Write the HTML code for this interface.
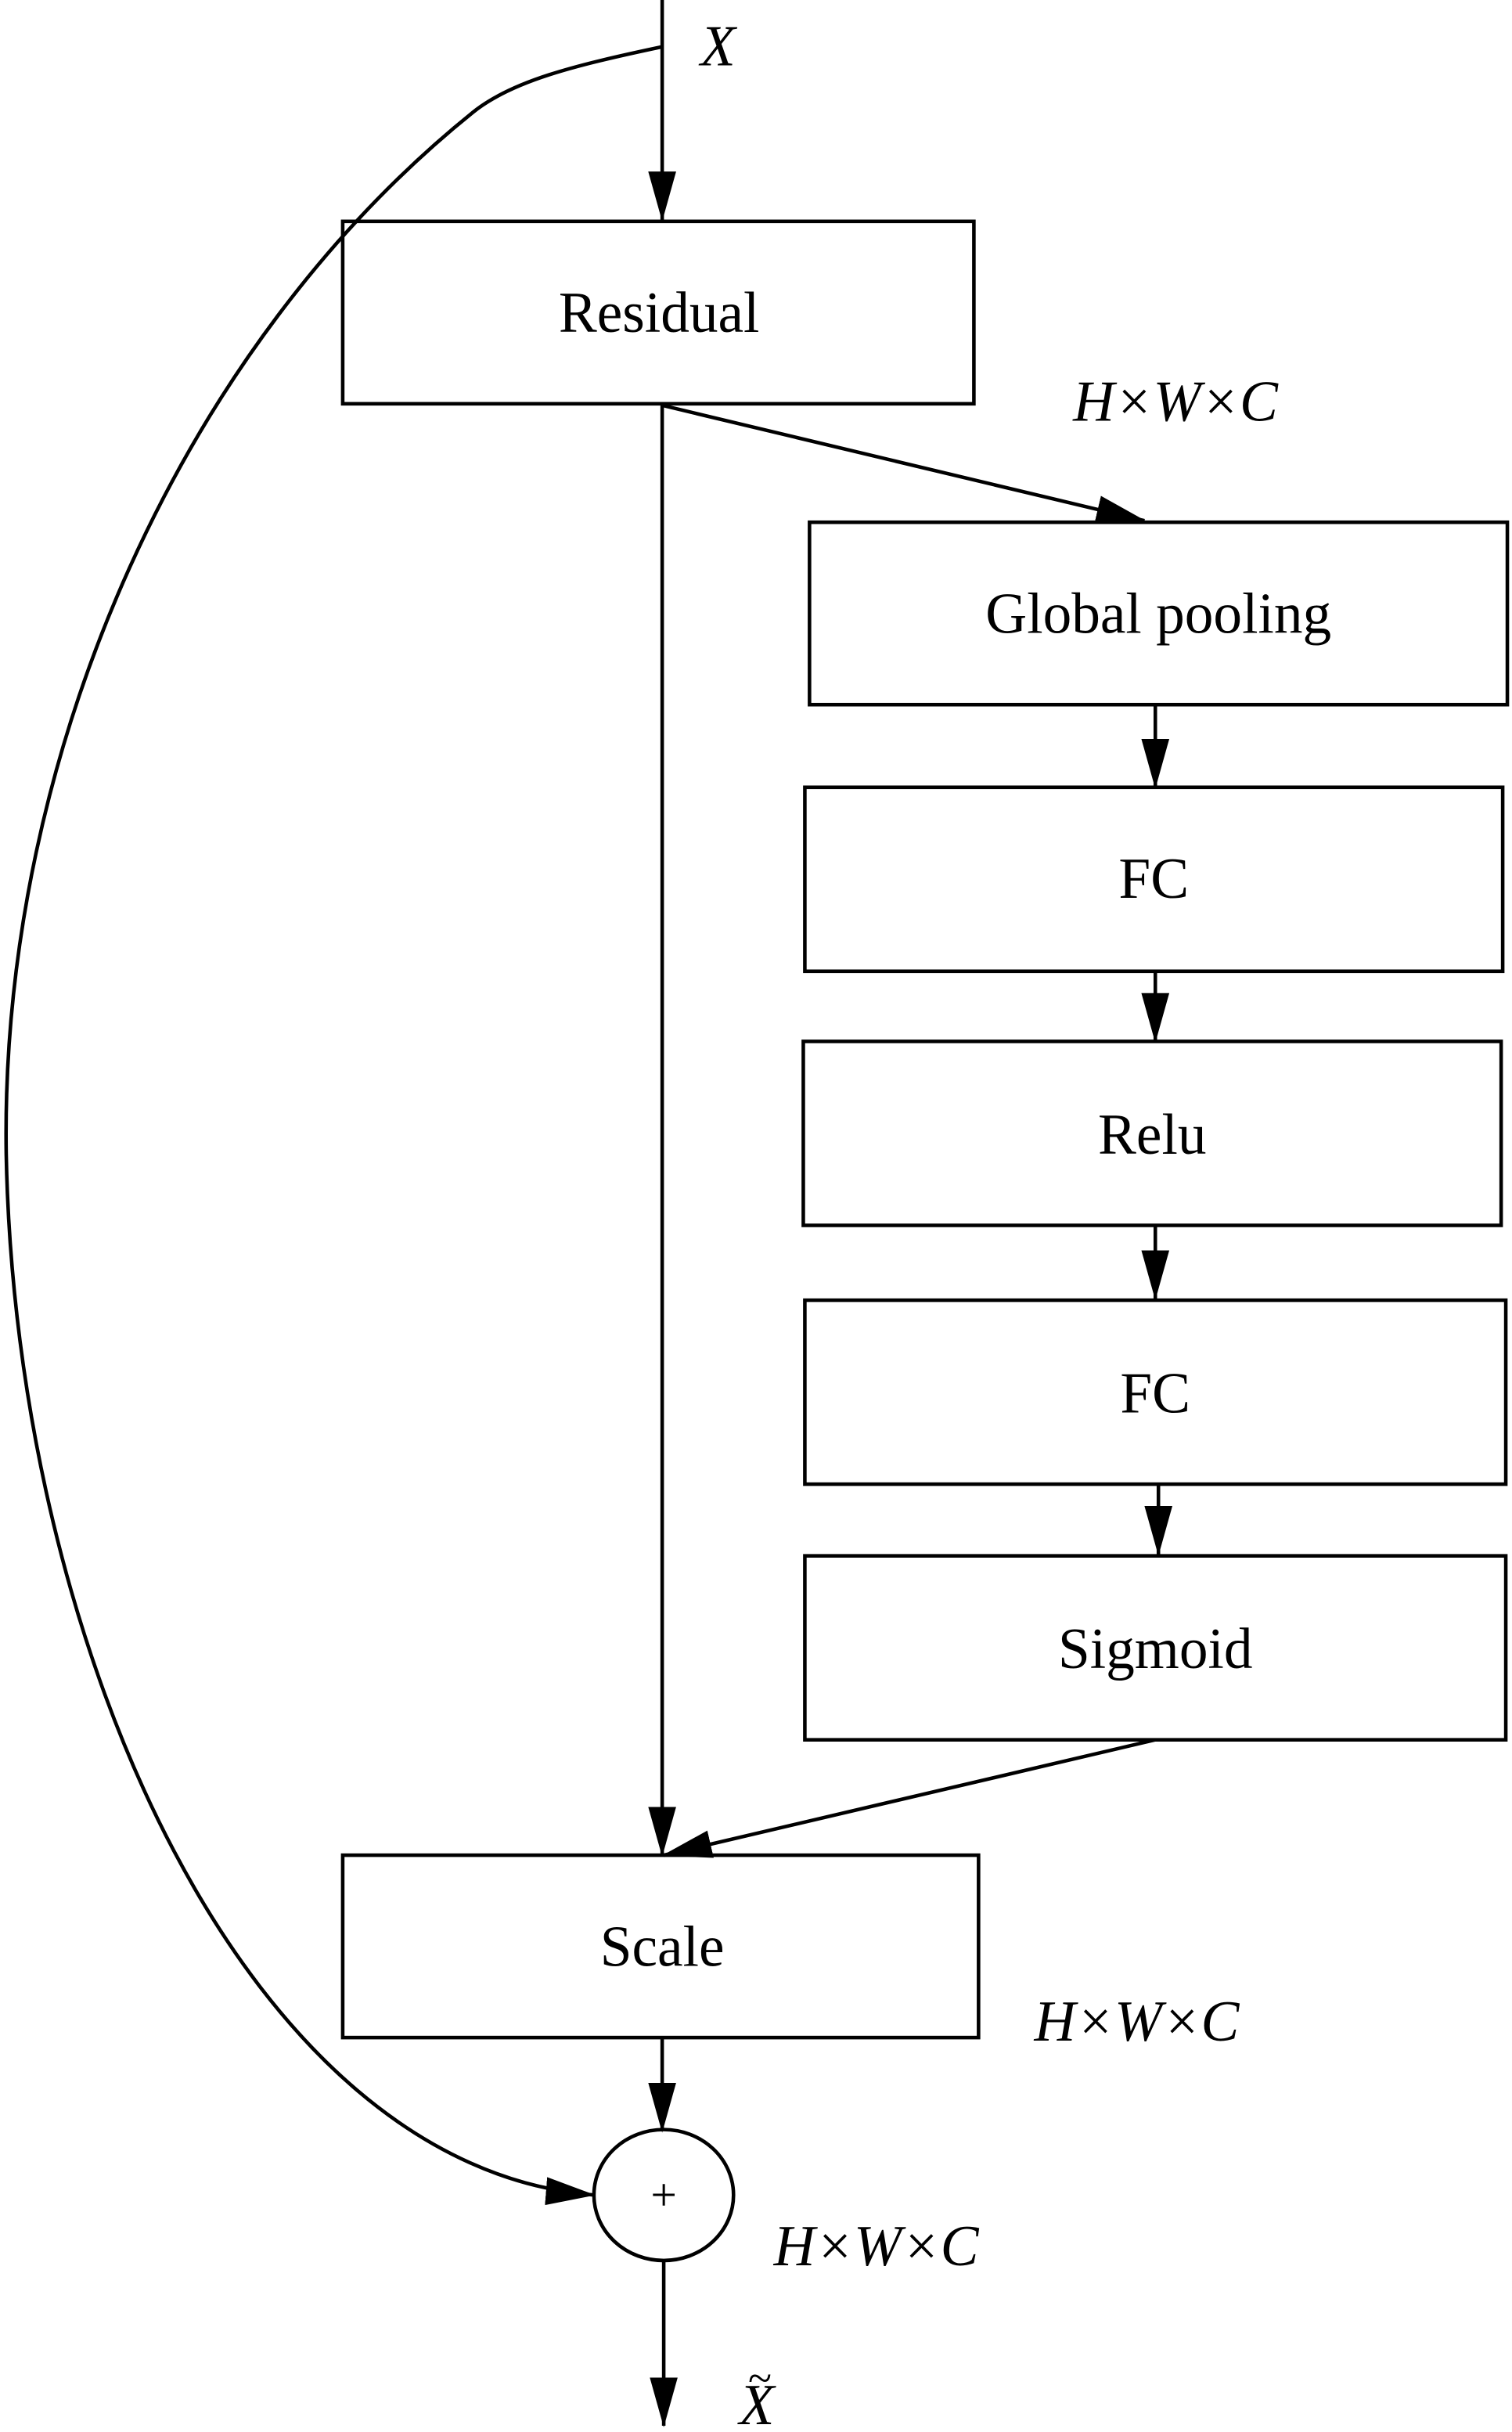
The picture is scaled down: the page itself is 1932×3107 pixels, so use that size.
<!DOCTYPE html>
<html><head><style>html,body{margin:0;padding:0;background:#fff}svg{display:block}</style></head>
<body>
<svg width="1932" height="3107" viewBox="0 0 975 1560" preserveAspectRatio="none" xmlns="http://www.w3.org/2000/svg">
<defs>
<marker id="b" markerWidth="32" markerHeight="20" refX="31" refY="10" orient="auto" markerUnits="userSpaceOnUse" viewBox="0 0 32 20"><path d="M0,1 L32,10 L0,19 Z" fill="#000"/></marker></defs>
<g fill="none" stroke="#000" stroke-width="2.3">
<line x1="427" y1="0" x2="427" y2="141" marker-end="url(#b)"/>
<rect x="221" y="142" width="407" height="117"/>
<line x1="427" y1="260" x2="738" y2="334" marker-end="url(#b)"/>
<rect x="522" y="335" width="450" height="117"/>
<line x1="745" y1="452" x2="745" y2="505" marker-end="url(#b)"/>
<rect x="519" y="505" width="450" height="118"/>
<line x1="745" y1="623" x2="745" y2="668" marker-end="url(#b)"/>
<rect x="518" y="668" width="450" height="118"/>
<line x1="745" y1="786" x2="745" y2="833" marker-end="url(#b)"/>
<rect x="519" y="834" width="452" height="118"/>
<line x1="747" y1="952" x2="747" y2="997" marker-end="url(#b)"/>
<rect x="519" y="998" width="452" height="118"/>
<line x1="745" y1="1116" x2="428" y2="1190" marker-end="url(#b)"/>
<line x1="427" y1="260" x2="427" y2="1190" marker-end="url(#b)"/>
<rect x="221" y="1190" width="410" height="117"/>
<line x1="427" y1="1307" x2="427" y2="1367" marker-end="url(#b)"/>
<ellipse cx="428" cy="1408" rx="45" ry="42"/>
<line x1="428" y1="1450" x2="428" y2="1556" marker-end="url(#b)"/>
<path d="M427,30 C370,42 330,52 305,72 C120,220 0,480 4,740 C10,1060 160,1390 383,1408" marker-end="url(#b)"/>
</g>
<g font-family="'Liberation Serif', serif" font-size="37" text-anchor="middle" fill="#000">
<text x="425" y="213">Residual</text>
<text x="747" y="406">Global pooling</text>
<text x="744" y="576">FC</text>
<text x="743" y="740">Relu</text>
<text x="745" y="906">FC</text>
<text x="745" y="1070">Sigmoid</text>
<text x="427" y="1261">Scale</text>
<text x="428" y="1418" font-size="30">+</text>
<g font-style="italic">
<text x="463" y="42">X</text>
<text x="758" y="270">H×W×C</text>
<text x="733" y="1309">H×W×C</text>
<text x="565" y="1453">H×W×C</text>
<text x="488" y="1555">X</text>
<text x="490" y="1535" font-style="normal" font-size="28">~</text>
</g></g>
</svg>
</body></html>
